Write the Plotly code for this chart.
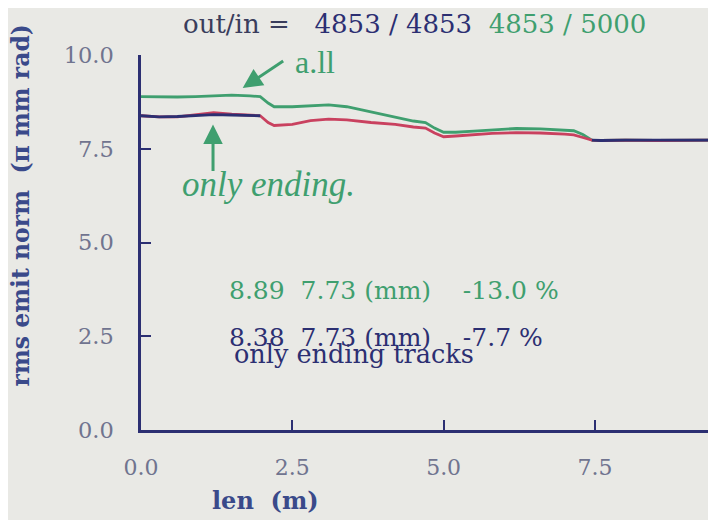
import plotly.graph_objects as go

# ---- data ----
x_len = [0, 0.3, 0.6, 0.9, 1.2, 1.5, 1.8, 1.97, 2.1, 2.2, 2.5, 2.8, 3.1, 3.4, 3.8,
         4.2, 4.5, 4.7, 4.85, 5.0, 5.2, 5.5, 5.8, 6.2, 6.6, 7.0, 7.15, 7.3, 7.45,
         7.6, 8.0, 8.5, 9.0, 9.5]
emit_all = [8.89, 8.88, 8.88, 8.89, 8.91, 8.93, 8.91, 8.89, 8.72, 8.62, 8.62, 8.65,
            8.67, 8.62, 8.48, 8.36, 8.24, 8.20, 8.05, 7.94, 7.94, 7.97, 8.00, 8.04,
            8.03, 8.00, 7.98, 7.88, 7.73, 7.72, 7.73, 7.72, 7.73, 7.73]
emit_ending = [8.38, 8.35, 8.35, 8.40, 8.46, 8.42, 8.40, 8.38, 8.20, 8.12, 8.15,
               8.25, 8.29, 8.27, 8.20, 8.15, 8.08, 8.05, 7.92, 7.82, 7.84, 7.88,
               7.91, 7.93, 7.92, 7.89, 7.87, 7.80, 7.73, 7.72, 7.73, 7.72, 7.73, 7.73]
emit_end_only = [8.38, 8.35, 8.36, 8.39, 8.41, 8.40, 8.39, 8.38, None, None, None,
                 None, None, None, None, None, None, None, None, None, None, None,
                 None, None, None, None, None, None, 7.73, 7.72, 7.73, 7.72, 7.73, 7.73]

x_ticks = [0.0, 2.5, 5.0, 7.5]
y_ticks = [0.0, 2.5, 5.0, 7.5, 10.0]

GREEN = "#3f9f6f"
RED = "#c9415f"
NAVY = "#2c2f72"
BG = "#e9e9e5"
SERIF = "DejaVu Serif"
SP = "\u00a0"

fig = go.Figure()
fig.add_trace(go.Scatter(x=x_len, y=emit_all, mode="lines",
                         line=dict(color=GREEN, width=2.8)))
fig.add_trace(go.Scatter(x=x_len, y=emit_ending, mode="lines",
                         line=dict(color=RED, width=2.8)))
fig.add_trace(go.Scatter(x=x_len, y=emit_end_only, mode="lines",
                         line=dict(color=NAVY, width=2.8), connectgaps=False))

ann = []
# title
ann.append(dict(xref="paper", yref="paper", x=0.475, y=1.082, xanchor="center",
                yanchor="middle", showarrow=False,
                text=f'<span style="color:#3a3d5c">out/in =</span>{SP*3}'
                     f'<span style="color:{NAVY}">4853 / 4853</span>{SP*2}'
                     f'<span style="color:{GREEN}">4853 / 5000</span>',
                font=dict(family=SERIF, size=26)))
# stats
ann.append(dict(x=1.42, y=3.73, xanchor="left", yanchor="middle", showarrow=False,
                text=f"8.89{SP*2}7.73 (mm){SP*4}-13.0 %",
                font=dict(family=SERIF, size=25, color=GREEN)))
ann.append(dict(x=1.42, y=2.47, xanchor="left", yanchor="middle", showarrow=False,
                text=f"8.38{SP*2}7.73 (mm){SP*4}-7.7 %",
                font=dict(family=SERIF, size=25, color=NAVY)))
ann.append(dict(x=1.5, y=2.02, xanchor="left", yanchor="middle", showarrow=False,
                text="only ending tracks",
                font=dict(family=SERIF, size=25.5, color=NAVY)))
# handwritten notes
ann.append(dict(x=1.68, y=9.12, ax=42, ay=-28, text="", showarrow=True,
                arrowhead=2, arrowsize=1.3, arrowwidth=3, arrowcolor=GREEN))
ann.append(dict(x=2.88, y=9.82, text="a.ll", showarrow=False,
                font=dict(family="Liberation Serif", size=32, color=GREEN)))
ann.append(dict(x=1.19, y=8.15, ax=0, ay=48, text="", showarrow=True,
                arrowhead=2, arrowsize=1.3, arrowwidth=3, arrowcolor=GREEN))
ann.append(dict(x=2.1, y=6.55, text="<i>only ending.</i>", showarrow=False,
                font=dict(family="Liberation Serif", size=35, color=GREEN)))
# axis titles
ann.append(dict(xref="paper", yref="paper", x=-0.208, y=0.60, textangle=-90,
                xanchor="center", yanchor="middle", showarrow=False,
                text=f"<b>rms emit norm{SP*2}(\u03c0 mm rad)</b>",
                font=dict(family=SERIF, size=23.5, color="#3a4a8a")))
ann.append(dict(xref="x", yref="paper", x=2.05, y=-0.187,
                xanchor="center", yanchor="middle", showarrow=False,
                text=f"<b>len{SP*2}(m)</b>",
                font=dict(family=SERIF, size=24, color="#3a4a8a")))

fig.update_layout(
    width=716, height=520,
    margin=dict(l=133, r=8, t=47, b=98),
    paper_bgcolor=BG, plot_bgcolor=BG,
    showlegend=False,
    annotations=ann,
    xaxis=dict(range=[0, 9.5], tickvals=x_ticks, tickformat=".1f",
               showgrid=False, zeroline=False, showline=True, linecolor=NAVY,
               linewidth=2.5, ticks="inside", ticklen=10, tickwidth=2,
               tickcolor=NAVY, ticklabelstandoff=16,
               tickfont=dict(family=SERIF, size=22, color="#70748f")),
    yaxis=dict(range=[0, 10], tickvals=y_ticks, tickformat=".1f",
               showgrid=False, zeroline=False, showline=True, linecolor=NAVY,
               linewidth=2.5, ticks="inside", ticklen=10, tickwidth=2,
               tickcolor=NAVY, ticklabelstandoff=20,
               tickfont=dict(family=SERIF, size=22.5, color="#70748f")),
)

fig.write_html("out.html")
